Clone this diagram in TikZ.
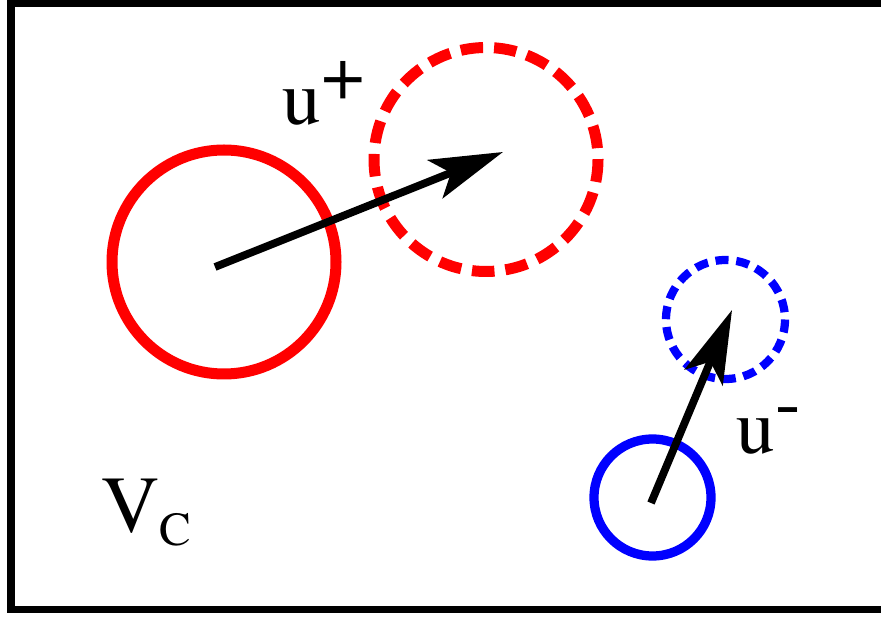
\documentclass[tikz,border=0pt]{standalone}
\usepackage{fontspec}
\setmainfont{texgyretermes-regular.otf}
\usetikzlibrary{arrows.meta}

\begin{document}
\begin{tikzpicture}[x=0.02cm,y=-0.02cm,>={Stealth[length=1.46cm,width=0.82cm,inset=0.34cm]},
  lbl/.style={anchor=base west,inner sep=0pt,font=\rmfamily\fontsize{44}{44}\selectfont}]
  \useasboundingbox (0,0) rectangle (881,617);
  \clip (0,0) rectangle (881,617);
  % frame, open on the right
  \draw[line width=0.155cm] (11,3.5) rectangle (920,609.5);
  % positions before and after
  \draw[red,line width=0.22cm] (224,262) circle[radius=112];
  \draw[red,line width=0.22cm,dash pattern=on 0.45cm off 0.22cm] (486,159.5) circle[radius=112];
  \draw[blue,line width=0.185cm] (652.5,497.5) circle[radius=58.5];
  \draw[blue,line width=0.165cm,dash pattern=on 0.26cm off 0.156cm] (725.5,319.5) circle[radius=59.5];
  % displacements
  \coordinate (rp0) at (215,267);
  \coordinate (rp1) at (503,152);
  \coordinate (bp0) at (651,503);
  \coordinate (bp1) at (732,310);
  \draw[->,line width=0.155cm] (rp0) -- (rp1);
  \draw[->,line width=0.155cm] (bp0) -- (bp1);
  \node[lbl] (uplus) at (282,125) {u\raisebox{0.5cm}{+}};
  \node[lbl] (uminus) at (736,453) {u\raisebox{0.52cm}{-}};
  \node[lbl,font=\rmfamily\fontsize{46}{46}\selectfont] (vc) at (101,532) {V\raisebox{-0.28cm}{\fontsize{27}{27}\selectfont C}};
\end{tikzpicture}
\end{document}
